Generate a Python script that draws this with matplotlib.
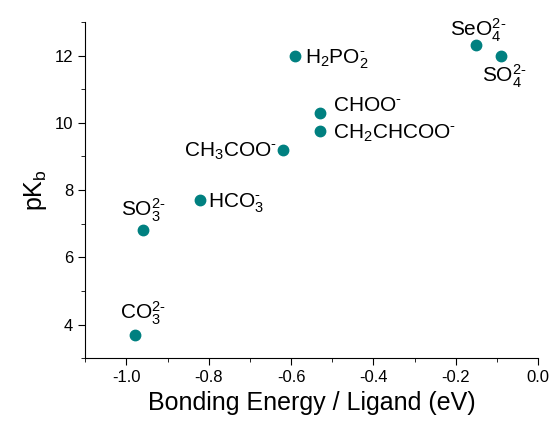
import numpy as np
import matplotlib
matplotlib.use('Agg')
import matplotlib.pyplot as plt
from matplotlib.ticker import MultipleLocator

plt.rcParams['font.family'] = ['Liberation Sans', 'DejaVu Sans']
plt.rcParams['mathtext.fontset'] = 'custom'
plt.rcParams['mathtext.rm'] = 'Liberation Sans'
plt.rcParams['mathtext.it'] = 'Liberation Sans'
plt.rcParams['mathtext.default'] = 'regular'
plt.rcParams['axes.unicode_minus'] = False

# bonding energy per ligand (eV) and pKb
labels = [r'CO$_3^{2\text{-}}$', r'SO$_3^{2\text{-}}$', r'HCO$_3^{\text{-}}$',
          r'CH$_3$COO$^{\text{-}}$', r'H$_2$PO$_2^{\text{-}}$', r'CHOO$^{\text{-}}$',
          r'CH$_2$CHCOO$^{\text{-}}$', r'SeO$_4^{2\text{-}}$', r'SO$_4^{2\text{-}}$']
energy = [-0.98, -0.96, -0.82, -0.62, -0.59, -0.53, -0.53, -0.15, -0.09]
pkb = [3.7, 6.8, 7.7, 9.2, 12.0, 10.3, 9.75, 12.3, 12.0]

# label placement (pixel offsets, alignment)
offsets = [(8, 15), (1, 14), (8, -7), (-6, -7), (10, -8), (13, 2), (13, -7), (2, 9), (3, -27)]
halign = ['center', 'center', 'left', 'right', 'left', 'left', 'left', 'center', 'center']

fig = plt.figure(figsize=(5.53, 4.30), dpi=100)
ax = fig.add_axes([0.154, 0.167, 0.819, 0.782])

ax.plot(energy, pkb, 'o', color='#008080', markersize=7.5, linestyle='none')

for lab, x, y, off, ha in zip(labels, energy, pkb, offsets, halign):
    ax.annotate(lab, (x, y), xytext=off, textcoords='offset pixels',
                ha=ha, va='baseline', fontsize=15)

ax.set_xlim(-1.1, 0.0)
ax.set_ylim(3, 13)
ax.xaxis.set_major_locator(MultipleLocator(0.2))
ax.xaxis.set_minor_locator(MultipleLocator(0.1))
ax.yaxis.set_major_locator(MultipleLocator(2))
ax.yaxis.set_minor_locator(MultipleLocator(1))
ax.spines['top'].set_visible(False)
ax.spines['right'].set_visible(False)
ax.tick_params(which='major', direction='out', length=5, labelsize=12)
ax.tick_params(which='minor', direction='out', length=3)

ax.set_xlabel('Bonding Energy / Ligand (eV)', fontsize=18)
ax.set_ylabel(r'pK$_b$', fontsize=18)

fig.savefig('out.png', dpi=100)
